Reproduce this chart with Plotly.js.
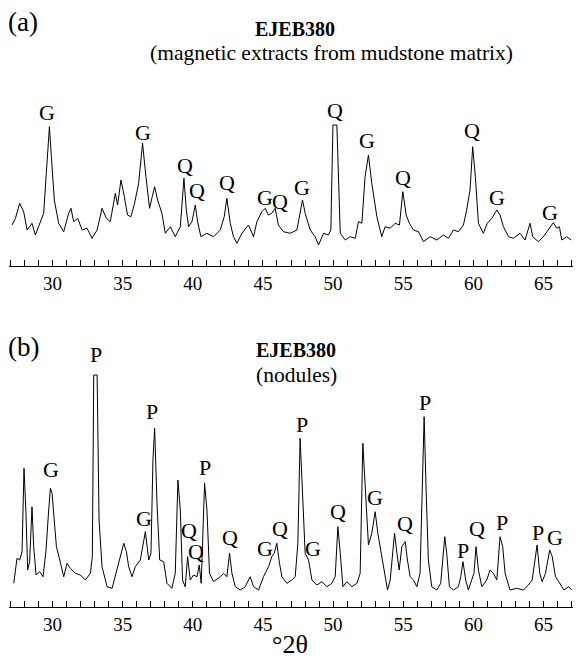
<!DOCTYPE html>
<html>
<head>
<meta charset="utf-8">
<script src="https://cdn.plot.ly/plotly-3.0.1.min.js"></script>
<style>html,body{margin:0;padding:0;background:#fff;}#chart{width:581px;height:661px;}</style>
</head>
<body>
<div id="chart"></div>
<script>
// Panel (a): magnetic extracts from mudstone matrix (2theta, relative intensity)
const aTheta = [27.12,27.36,27.66,27.95,28.19,28.54,28.78,29.14,29.37,29.56,29.78,29.92,30.13,30.44,30.80,31.15,31.32,31.51,31.80,32.11,32.46,32.82,33.18,33.53,33.84,34.12,34.48,34.64,34.88,35.12,35.35,35.59,35.85,36.14,36.42,36.66,36.92,37.11,37.28,37.49,37.80,38.04,38.40,38.75,39.11,39.37,39.54,39.70,39.94,40.18,40.34,40.58,41.01,41.48,41.96,42.24,42.43,42.67,42.90,43.14,43.50,43.97,44.33,44.57,44.92,45.16,45.39,45.63,45.87,46.10,46.46,46.94,47.42,47.82,48.01,48.37,48.72,48.96,49.32,49.67,49.84,49.99,50.27,50.51,50.87,51.22,51.58,51.81,52.05,52.28,52.52,52.76,53.12,53.47,53.71,54.07,54.42,54.73,54.97,55.21,55.44,55.73,56.09,56.44,56.92,57.39,57.87,58.22,58.58,58.93,59.29,59.52,59.76,59.95,60.14,60.36,60.71,60.99,61.31,61.67,61.90,62.14,62.50,62.85,63.33,63.68,64.04,64.23,64.63,64.99,65.34,65.70,65.94,66.13,66.30,66.66,66.97];
const aCounts = [41,47.7,62.7,54,36,42.7,31,44.3,52.7,92.7,139.3,109.3,66,42.7,34.3,52.7,57.7,44.3,47.7,36,37.7,27.7,36,57.7,47.7,44.3,72.7,61,86,69.3,51,49.3,62.7,82.7,122.7,89.3,57.7,69.3,79.3,66,52.7,32.7,39.3,29.3,39.3,87.7,56,39.3,44.3,61,44.3,29.3,32.7,29.3,36,49.3,67.7,42.7,29.3,22.7,32.7,41,29.3,44.3,54.3,57.7,51,52.7,57.7,41,34.3,32.7,36,66,52.7,36,29.3,21,32.7,31,36,141,141,32.7,26,29.3,27.7,44.3,42.7,89.3,111,82.7,49.3,29.3,39.3,37.7,42.7,41,74.3,51,42.7,36,34.3,24.3,29.3,26,31,27.7,36,34.3,41,56,76,119.3,89.3,42.7,32.7,42.7,47.7,56,51,39.3,29.3,27.7,32.7,26,42.7,29.3,24.3,29.3,36,43.3,37.7,39.3,26,29.3,26];
const aLabelTheta = [29.61,36.45,39.46,40.30,42.43,45.16,46.23,47.77,50.13,52.43,54.97,59.88,61.67,65.46];
const aLabelHeight = [154,134,101,76,84,69,65,79,156,126,89,136,69,54];
const aLabelText = ["G","G","Q","Q","Q","G","Q","G","Q","G","Q","Q","G","G"];

// Panel (b): nodules
const bTheta = [27.24,27.47,27.66,27.83,27.97,28.11,28.23,28.37,28.54,28.66,28.83,29.09,29.33,29.54,29.73,29.85,29.97,30.09,30.28,30.52,30.80,31.04,31.27,31.63,31.99,32.34,32.70,32.84,32.94,33.18,33.32,33.53,33.89,34.25,34.61,34.83,35.08,35.27,35.43,35.67,35.90,36.26,36.62,36.86,37.02,37.16,37.28,37.45,37.64,37.92,38.16,38.51,38.75,38.94,39.11,39.27,39.46,39.63,39.82,40.05,40.30,40.46,40.60,40.84,41.01,41.19,41.48,41.96,42.19,42.43,42.62,42.79,43.03,43.38,43.74,44.09,44.33,44.69,45.04,45.40,45.63,45.80,45.99,46.18,46.35,46.71,47.06,47.30,47.49,47.65,47.89,48.01,48.25,48.49,48.84,49.20,49.56,49.91,50.15,50.34,50.51,50.70,50.98,51.34,51.70,51.93,52.12,52.24,52.41,52.52,52.76,53.00,53.19,53.40,53.59,53.88,54.07,54.38,54.55,54.71,54.90,55.14,55.30,55.49,55.73,55.97,56.20,56.37,56.49,56.63,56.79,57.03,57.39,57.67,57.81,57.96,58.10,58.29,58.58,58.93,59.10,59.26,59.45,59.64,59.88,60.04,60.19,60.36,60.60,60.95,61.19,61.42,61.67,61.90,62.09,62.26,62.61,63.09,63.56,63.92,64.19,64.38,64.54,64.73,64.90,65.14,65.44,65.62,65.85,66.09,66.45,66.80,67.00];
const bCounts = [30.7,55.7,54,62.3,145.7,100.7,44,52.3,107.3,67.3,39,42.3,37.3,64,104,125.7,120.7,100.7,67.3,54,37.3,50.7,45.7,40.7,39,34,40.7,57.3,239,239,94,47.3,27.3,25.7,45.7,57.3,70.7,62.3,47.3,37.3,47.3,54,82.3,54,60.7,154,185.7,110.7,54,52.3,30.7,25.7,40.7,134,104,34,27.3,57.3,34,39,37.3,49,30.7,130.7,104,40.7,32.3,37.3,40.7,37.3,60.7,40.7,27.3,24,27.3,37.3,27.3,24,37.3,47.3,57.3,60.7,70.7,50.7,37.3,30.7,34,37.3,70.7,175.7,87.3,60.7,54,34,29,32.3,27.3,30.7,37.3,87.3,60.7,27.3,32.3,27.3,30.7,40.7,170.7,137.3,104,69,80.7,102.3,80.7,64,47.3,24,34,80.7,60.7,44,67.3,72.3,54,37.3,34,27.3,40.7,120.7,197.3,124,54,27.3,24,30.7,54,77.3,60.7,27.3,24,27.3,37.3,52.3,34,24,34,40.7,67.3,44,27.3,34,44,40.7,34,77.3,67.3,40.7,24,25.7,24,29,34,50.7,69,40.7,32.3,40.7,64,57.3,37.3,32.3,24,27.3,24];
const bLabelTheta = [29.90,33.12,36.50,37.09,39.72,40.26,40.89,42.67,45.16,46.23,47.77,48.60,50.34,53.00,55.09,56.56,59.24,60.24,62.02,64.57,65.85];
const bLabelHeight = [144,259,96,202,84,63,146,77,66,86,189,66,102,116,91,211,64,86,92,82,77];
const bLabelText = ["G","P","G","P","Q","Q","P","Q","G","Q","P","G","Q","G","Q","P","P","Q","P","P","G"];

const tickValues = [];
const tickLabels = [];
for (let t = 27; t <= 67; t++) { tickValues.push(t); tickLabels.push(t % 5 === 0 ? String(t) : ""); }

const serif = "Liberation Serif, Times New Roman, serif";
const lineStyle = {color: "#000", width: 1};

const traces = [
  {x: aTheta, y: aCounts, type: "scatter", mode: "lines", line: lineStyle, xaxis: "x", yaxis: "y", hoverinfo: "skip"},
  {x: bTheta, y: bCounts, type: "scatter", mode: "lines", line: lineStyle, xaxis: "x2", yaxis: "y2", hoverinfo: "skip"}
];

function xAxisBase() {
  return {
    range: [26.9, 67.1], showgrid: false, zeroline: false,
    showline: true, linecolor: "#000", linewidth: 1,
    ticks: "inside", ticklen: 6, tickwidth: 1, tickcolor: "#000",
    tickmode: "array", tickvals: tickValues, ticktext: tickLabels,
    tickfont: {family: serif, size: 19, color: "#000"}, fixedrange: true
  };
}
const xa = xAxisBase(); xa.domain = [0, 1]; xa.anchor = "y";
const xb = xAxisBase(); xb.domain = [0, 1]; xb.anchor = "y2";

const labelFont = {family: serif, size: 22, color: "#000"};
const annotations = [];
aLabelText.forEach((t, i) => annotations.push({x: aLabelTheta[i], y: aLabelHeight[i], xref: "x", yref: "y", text: t, showarrow: false, font: labelFont}));
bLabelText.forEach((t, i) => annotations.push({x: bLabelTheta[i], y: bLabelHeight[i], xref: "x2", yref: "y2", text: t, showarrow: false, font: labelFont}));
function px2paperX(px) { return (px - 9) / 564; }
function px2paperY(py) { return (661 - py) / 661; }
annotations.push(
  {xref: "paper", yref: "paper", x: px2paperX(6), y: px2paperY(22), xanchor: "left", yanchor: "middle", text: "(a)", showarrow: false, font: {family: serif, size: 27, color: "#000"}},
  {xref: "paper", yref: "paper", x: px2paperX(295), y: px2paperY(29), xanchor: "center", yanchor: "middle", text: "<b>EJEB380</b>", showarrow: false, font: {family: serif, size: 20, color: "#000"}},
  {xref: "paper", yref: "paper", x: px2paperX(331), y: px2paperY(53), xanchor: "center", yanchor: "middle", text: "(magnetic extracts from mudstone matrix)", showarrow: false, font: {family: serif, size: 21.5, color: "#000"}},
  {xref: "paper", yref: "paper", x: px2paperX(6), y: px2paperY(347), xanchor: "left", yanchor: "middle", text: "(b)", showarrow: false, font: {family: serif, size: 27, color: "#000"}},
  {xref: "paper", yref: "paper", x: px2paperX(296), y: px2paperY(350), xanchor: "center", yanchor: "middle", text: "<b>EJEB380</b>", showarrow: false, font: {family: serif, size: 20, color: "#000"}},
  {xref: "paper", yref: "paper", x: px2paperX(296), y: px2paperY(375), xanchor: "center", yanchor: "middle", text: "(nodules)", showarrow: false, font: {family: serif, size: 21.5, color: "#000"}},
  {xref: "paper", yref: "paper", x: px2paperX(290), y: px2paperY(644), xanchor: "center", yanchor: "middle", text: "°2θ", showarrow: false, font: {family: serif, size: 26, color: "#000"}}
);

const layout = {
  width: 581, height: 661,
  margin: {l: 9, r: 8, t: 0, b: 0},
  paper_bgcolor: "#fff", plot_bgcolor: "rgba(0,0,0,0)",
  showlegend: false,
  xaxis: xa, xaxis2: xb,
  yaxis: {domain: [(661 - 266) / 661, (661 - 70) / 661], range: [0, 196], visible: false, fixedrange: true},
  yaxis2: {domain: [(661 - 607) / 661, (661 - 340) / 661], range: [7, 274], visible: false, fixedrange: true},
  annotations: annotations,
  font: {family: serif, color: "#000"}
};

Plotly.newPlot("chart", traces, layout, {staticPlot: true, displayModeBar: false});
</script>
</body>
</html>
